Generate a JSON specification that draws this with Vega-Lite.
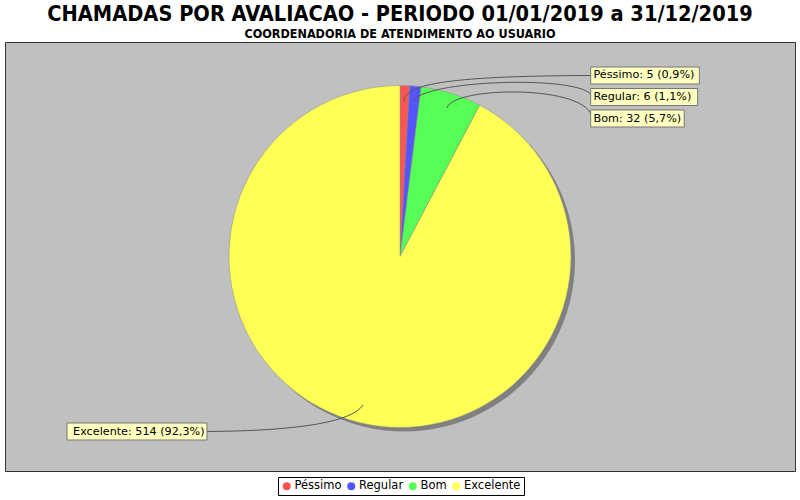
{
  "$schema": "https://vega.github.io/schema/vega-lite/v6.json",
  "width": 790,
  "height": 429,
  "autosize": "none",
  "padding": {"left": 5, "top": 42, "right": 5, "bottom": 29},
  "background": "white",
  "title": {
    "text": "CHAMADAS POR AVALIACAO - PERIODO 01/01/2019 a 31/12/2019",
    "subtitle": "COORDENADORIA DE ATENDIMENTO AO USUARIO",
    "anchor": "middle",
    "frame": "group",
    "font": "DejaVu Sans Condensed",
    "fontSize": 21.6,
    "fontWeight": "bold",
    "color": "black",
    "subtitleFont": "DejaVu Sans Condensed",
    "subtitleFontSize": 12.5,
    "subtitleFontWeight": "bold",
    "subtitleColor": "black",
    "subtitlePadding": 2,
    "offset": 2
  },
  "datasets": {
    "avaliacoes": [
      {"cat": "Péssimo", "value": 5, "ord": 1},
      {"cat": "Regular", "value": 6, "ord": 2},
      {"cat": "Bom", "value": 32, "ord": 3},
      {"cat": "Excelente", "value": 514, "ord": 4}
    ]
  },
  "data": {"name": "avaliacoes"},
  "resolve": {"scale": {"x": "independent", "y": "independent"}},
  "layer": [
    {
      "mark": {"type": "arc", "radius": 171, "xOffset": 4, "yOffset": 4, "color": "#808080"},
      "encoding": {
        "theta": {"field": "value", "type": "quantitative", "stack": true},
        "order": {"field": "ord", "type": "quantitative"}
      }
    },
    {
      "mark": {"type": "arc", "radius": 171, "stroke": "#8a8a8a", "strokeWidth": 0.5},
      "encoding": {
        "theta": {"field": "value", "type": "quantitative", "stack": true},
        "order": {"field": "ord", "type": "quantitative"},
        "color": {
          "field": "cat",
          "type": "nominal",
          "scale": {
            "domain": ["Péssimo", "Regular", "Bom", "Excelente"],
            "range": ["#FF5555", "#5555FF", "#55FF55", "#FFFF55"]
          },
          "legend": {
            "orient": "none",
            "legendX": 273,
            "legendY": 435,
            "direction": "horizontal",
            "title": null,
            "fillColor": "white",
            "strokeColor": "black",
            "padding": 3,
            "symbolType": "circle",
            "symbolSize": 64,
            "symbolStrokeWidth": 0,
            "labelFont": "DejaVu Sans",
            "labelFontSize": 11.5,
            "labelColor": "black",
            "labelOffset": 2,
            "columnPadding": 3.5
          }
        }
      }
    },
    {
      "data": {"values": [{"item": "leader lines"}]},
      "mark": {
        "type": "point",
        "filled": false,
        "size": 4,
        "stroke": "#555555",
        "strokeWidth": 1,
        "opacity": 1,
        "shape": "M4,-154.5C4,-171.5,40,-180.5,191,-181M13,-154.5C18,-176.5,185,-182.5,192,-160M47,-148.5C52,-170.5,190,-172.5,192,-138M-37,148.5C-50,168.5,-120,174.5,-193,175"
      },
      "encoding": {}
    },
    {
      "transform": [
        {"joinaggregate": [{"op": "sum", "field": "value", "as": "total"}]},
        {"calculate": "datum.cat + ': ' + datum.value + ' (' + replace(format(datum.value / datum.total * 100, '.1f'), '.', ',') + '%)'", "as": "label"},
        {"calculate": "0.5 * length(datum.label) + 0.15 * length(replace(datum.label, regexp('[^0-9%m]', 'g'), '')) + 0.45", "as": "bw"},
        {"filter": "datum.cat != 'Excelente'"}
      ],
      "layer": [
        {
          "mark": {"type": "bar", "fill": "#FFFFC0", "stroke": "#777777", "strokeWidth": 1},
          "encoding": {
            "y": {"field": "cat", "type": "nominal", "axis": null,
                  "scale": {"type": "band", "domain": ["Péssimo", "Regular", "Bom"], "range": [25, 85], "paddingInner": 0.21, "paddingOuter": 0}},
            "x": {"field": "bw", "type": "quantitative", "axis": null,
                  "scale": {"domain": [0, 100], "range": [585.7, 1705.7]}}
          }
        },
        {
          "mark": {"type": "text", "align": "left", "baseline": "middle", "font": "DejaVu Sans", "fontSize": 11.2, "color": "black"},
          "encoding": {
            "y": {"field": "cat", "type": "nominal", "axis": null,
                  "scale": {"type": "band", "domain": ["Péssimo", "Regular", "Bom"], "range": [25, 85], "paddingInner": 0.21, "paddingOuter": 0}},
            "x": {"value": 588.5},
            "text": {"field": "label"}
          }
        }
      ]
    },
    {
      "transform": [
        {"joinaggregate": [{"op": "sum", "field": "value", "as": "total"}]},
        {"calculate": "datum.cat + ': ' + datum.value + ' (' + replace(format(datum.value / datum.total * 100, '.1f'), '.', ',') + '%)'", "as": "label"},
        {"calculate": "0.5 * length(datum.label) + 0.15 * length(replace(datum.label, regexp('[^0-9%m]', 'g'), '')) + 0.45", "as": "bw"},
        {"filter": "datum.cat == 'Excelente'"}
      ],
      "layer": [
        {
          "mark": {"type": "bar", "fill": "#FFFFC0", "stroke": "#777777", "strokeWidth": 1},
          "encoding": {
            "y": {"field": "cat", "type": "nominal", "axis": null,
                  "scale": {"type": "band", "domain": ["Excelente"], "range": [381, 398], "paddingInner": 0, "paddingOuter": 0}},
            "x": {"field": "bw", "type": "quantitative", "axis": null,
                  "scale": {"domain": [0, 100], "range": [202, -918]}}
          }
        },
        {
          "mark": {"type": "text", "align": "right", "baseline": "middle", "font": "DejaVu Sans", "fontSize": 11.2, "color": "black"},
          "encoding": {
            "y": {"field": "cat", "type": "nominal", "axis": null,
                  "scale": {"type": "band", "domain": ["Excelente"], "range": [381, 398], "paddingInner": 0, "paddingOuter": 0}},
            "x": {"value": 199.5},
            "text": {"field": "label"}
          }
        }
      ]
    }
  ],
  "config": {
    "view": {"fill": "#C0C0C0", "stroke": "#333333", "strokeWidth": 1}
  }
}
